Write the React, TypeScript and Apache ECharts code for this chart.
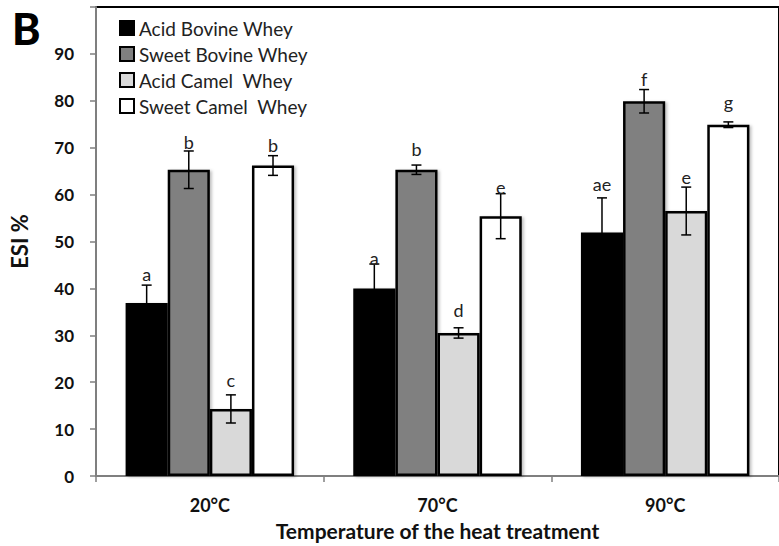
import React, { useEffect, useRef } from "react";
import * as echarts from "echarts";

const categories = ["20°C", "70°C", "90°C"];
const seriesNames = ["Acid Bovine Whey", "Sweet Bovine Whey", "Acid Camel  Whey", "Sweet Camel  Whey"];
const seriesColors = ["#000000", "#808080", "#d9d9d9", "#ffffff"];

const acidBovine = [36.9, 40.0, 51.9];
const sweetBovine = [65.3, 65.3, 79.9];
const acidCamel = [14.3, 30.5, 56.5];
const sweetCamel = [66.2, 55.4, 74.9];

const acidBovineErr = [3.8, 5.2, 7.4];
const sweetBovineErr = [4.0, 1.0, 2.5];
const acidCamelErr = [3.0, 1.1, 5.1];
const sweetCamelErr = [2.1, 4.8, 0.6];

const acidBovineLetters = ["a", "a", "ae"];
const sweetBovineLetters = ["b", "b", "f"];
const acidCamelLetters = ["c", "d", "e"];
const sweetCamelLetters = ["b", "e", "g"];

// value level of each letter's baseline
const acidBovineLetterY = [41.5, 44.9, 60.8];
const sweetBovineLetterY = [69.7, 68.2, 83.1];
const acidCamelLetterY = [18.9, 33.9, 62.3];
const sweetCamelLetterY = [69.1, 60.2, 78.2];

const yMin = 0;
const yMax = 100;
const yInterval = 10;

const FONT = "Lato";
const CAT_GAP = 0.26;

const App: React.FC = () => {
  const ref = useRef<HTMLDivElement>(null);

  useEffect(() => {
    if (!ref.current) return;
    const chart = echarts.init(ref.current, undefined, { renderer: "svg" });

    const values = [acidBovine, sweetBovine, acidCamel, sweetCamel];
    const errs = [acidBovineErr, sweetBovineErr, acidCamelErr, sweetCamelErr];
    const letters = [acidBovineLetters, sweetBovineLetters, acidCamelLetters, sweetCamelLetters];
    const letterYs = [acidBovineLetterY, sweetBovineLetterY, acidCamelLetterY, sweetCamelLetterY];

    const errData: number[][] = [];
    const errLetters: string[] = [];
    values.forEach((vals, s) => {
      vals.forEach((v, c) => {
        errData.push([c, v, errs[s][c], s, letterYs[s][c]]);
        errLetters.push(letters[s][c]);
      });
    });

    const barSeries = values.map((vals, s) => ({
      name: seriesNames[s],
      type: "bar",
      data: vals,
      barGap: "0%",
      barCategoryGap: CAT_GAP * 100 + "%",
      itemStyle: {
        color: seriesColors[s],
        borderColor: "#000",
        borderWidth: 2.5,
        shadowColor: "rgba(0,0,0,0.25)",
        shadowBlur: 3,
        shadowOffsetX: 2,
        shadowOffsetY: 1,
      },
      emphasis: { disabled: true },
      z: 2,
    }));

    const option: any = {
      animation: false,
      backgroundColor: "#ffffff",
      textStyle: { fontFamily: FONT },
      grid: {
        left: 95,
        top: 7,
        right: -6,
        bottom: 67,
        show: true,
        borderColor: "#000",
        borderWidth: 2,
        backgroundColor: "transparent",
      },
      graphic: [
        {
          type: "text",
          left: 12,
          top: 7,
          style: { text: "B", font: `900 43px ${FONT}`, fill: "#000" },
        },
      ],
      legend: {
        data: seriesNames,
        orient: "vertical",
        left: 114,
        top: 13,
        icon: "rect",
        itemWidth: 14,
        itemHeight: 14,
        itemGap: 6,
        itemStyle: { borderColor: "#000", borderWidth: 2, shadowBlur: 0, shadowOffsetX: 0, shadowOffsetY: 0 },
        textStyle: { fontFamily: FONT, fontSize: 19, lineHeight: 20, color: "#222" },
        selectedMode: false,
      },
      xAxis: {
        type: "category",
        data: categories,
        name: "Temperature of the heat treatment",
        nameLocation: "middle",
        nameGap: 44,
        nameTextStyle: { fontFamily: FONT, fontSize: 21, fontWeight: "bold", color: "#111" },
        axisLine: { lineStyle: { color: "#7f7f7f", width: 2 } },
        axisTick: { show: true, length: 6, lineStyle: { color: "#7f7f7f", width: 1.5 } },
        axisLabel: { margin: 20, fontFamily: FONT, fontSize: 18, fontWeight: "bold", color: "#111" },
      },
      yAxis: {
        type: "value",
        min: yMin,
        max: yMax,
        interval: yInterval,
        name: "ESI %",
        nameLocation: "middle",
        nameRotate: 90,
        nameGap: 66,
        nameTextStyle: { fontFamily: FONT, fontSize: 22, fontWeight: "bold", color: "#111" },
        axisLine: { show: true, lineStyle: { color: "#7f7f7f", width: 2 } },
        axisTick: { show: true, length: 6, lineStyle: { color: "#7f7f7f", width: 1.5 } },
        splitLine: { show: false },
        axisLabel: {
          margin: 22,
          fontFamily: FONT,
          fontSize: 17,
          fontWeight: "bold",
          color: "#111",
          formatter: (v: number) => (v === yMax ? "" : String(v)),
        },
      },
      series: [
        ...barSeries,
        {
          name: "errors",
          type: "custom",
          z: 10,
          data: errData,
          encode: { x: 0, y: 1 },
          renderItem: (params: any, api: any) => {
            const c = api.value(0);
            const v = api.value(1);
            const e = api.value(2);
            const s = api.value(3);
            const ly = api.value(4);
            const catW = api.size([1, 0])[0];
            const bw = (catW * (1 - CAT_GAP)) / 4;
            const base = api.coord([c, v]);
            const x = base[0] + (s - 1.5) * bw;
            const yTop = api.coord([c, v + e])[1];
            const yBot = api.coord([c, v - e])[1];
            const yl = api.coord([c, ly])[1];
            const cap = 5;
            const ls = { stroke: "#000", lineWidth: 1.5 };
            return {
              type: "group",
              children: [
                { type: "line", shape: { x1: x, y1: yTop, x2: x, y2: yBot }, style: ls },
                { type: "line", shape: { x1: x - cap, y1: yTop, x2: x + cap, y2: yTop }, style: ls },
                { type: "line", shape: { x1: x - cap, y1: yBot, x2: x + cap, y2: yBot }, style: ls },
                {
                  type: "text",
                  x: x,
                  y: yl + 2,
                  style: {
                    text: errLetters[params.dataIndex],
                    font: `18px ${FONT}`,
                    fill: "#222",
                    align: "center",
                    verticalAlign: "bottom",
                  },
                },
              ],
            };
          },
        },
      ],
    };

    chart.setOption(option);
    return () => chart.dispose();
  }, []);

  return (
    <div
      ref={ref}
      style={{ position: "fixed", left: 0, top: 0, width: 779, height: 546 }}
    />
  );
};

export default App;
